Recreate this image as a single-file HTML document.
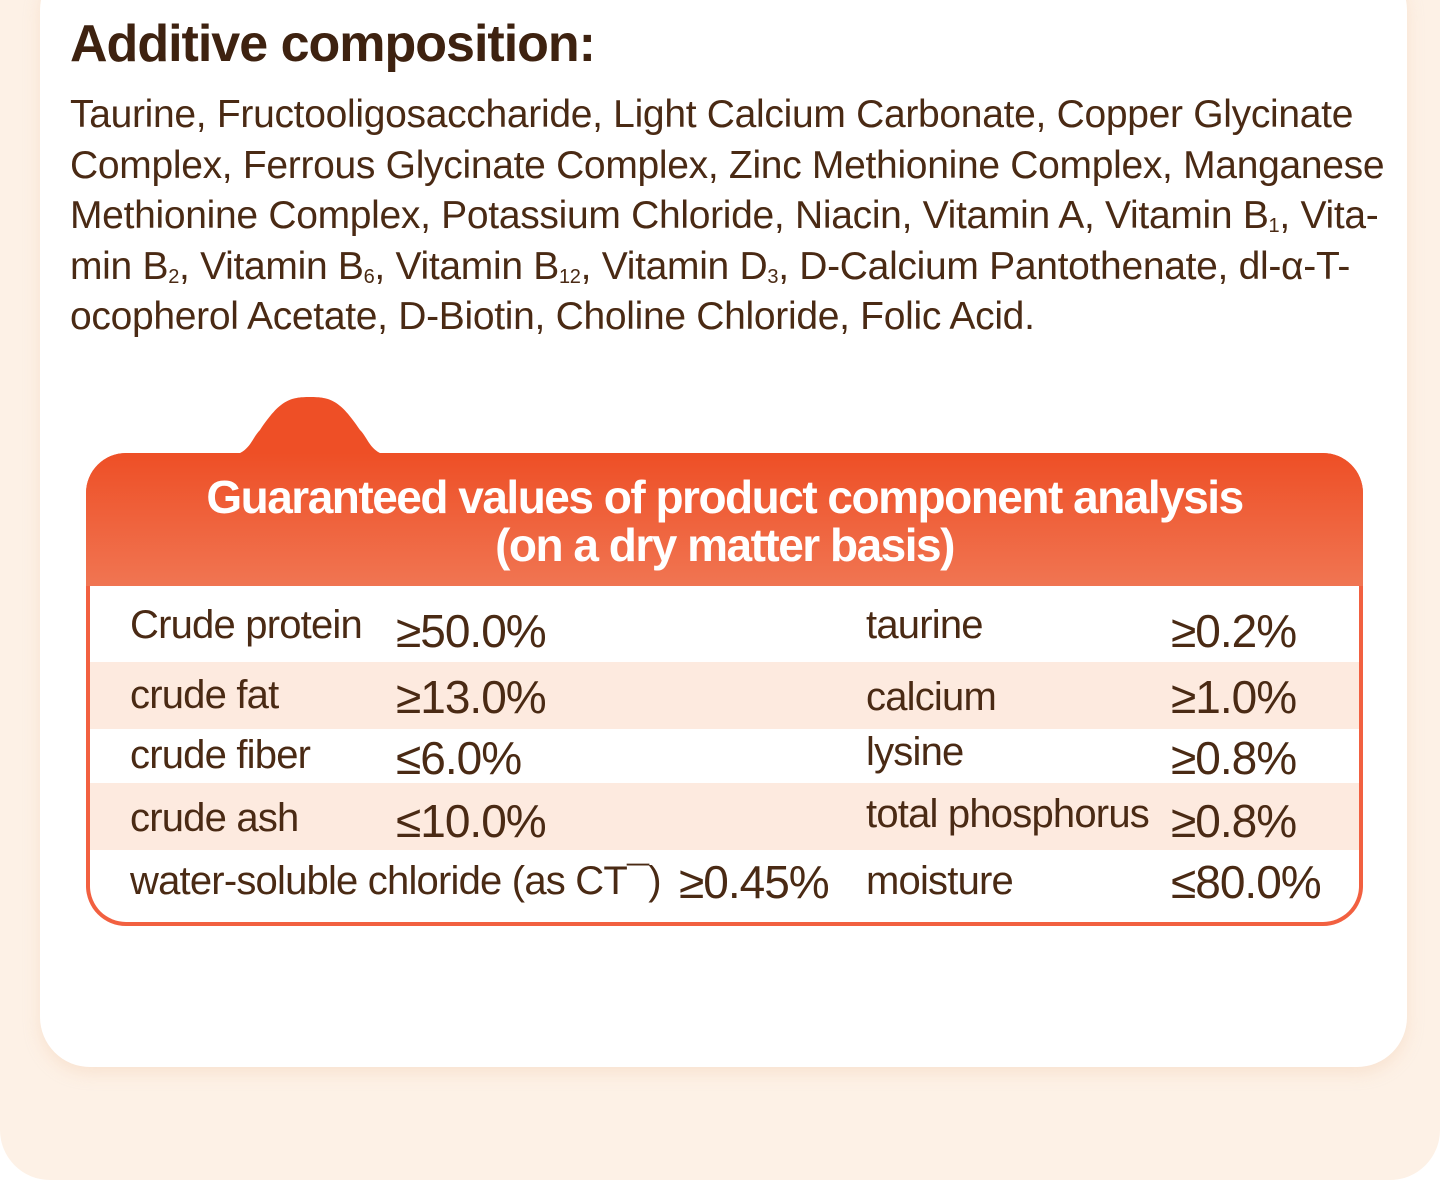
<!DOCTYPE html>
<html><head><meta charset="utf-8"><style>
body{margin:0;width:1440px;height:1202px;background:#fff;position:relative;overflow:hidden;font-family:"Liberation Sans","DejaVu Sans",sans-serif;color:#4a2a14}
.outer{position:absolute;left:0;top:0;width:1440px;height:1180px;background:#fdf1e6;border-radius:0 0 50px 50px}
.card{position:absolute;left:40px;top:-40px;width:1367px;height:1107px;background:#fff;border-radius:50px;box-shadow:0 6px 16px rgba(240,200,170,.35)}
h1{position:absolute;left:70px;top:14px;margin:0;font-size:52px;font-weight:bold;letter-spacing:-1px;color:#3e2210}
.p{position:absolute;left:70px;top:90px;white-space:nowrap;font-size:39px;line-height:50.5px;letter-spacing:-0.3px;color:#4a2a14}
sub{font-size:20px;vertical-align:-4px;line-height:0}
.tbl{position:absolute;left:86px;top:453px;width:1277px;height:473px;border-radius:40px;background:#f26040;overflow:hidden}
.hd{position:absolute;left:0;top:0;width:100%;height:133px;background:linear-gradient(#ee4f26,#f07552);color:#fff;text-align:center;font-weight:bold;font-size:46px;line-height:48px;letter-spacing:-1.5px;padding-top:20px;box-sizing:border-box}
.bd{position:absolute;left:4px;top:133px;width:1269px;height:336px;background:#fff;border-radius:0 0 36px 36px;overflow:hidden}
.r{position:absolute;left:0;width:100%}
.t{position:absolute;font-size:40px;letter-spacing:-0.8px;white-space:nowrap}
.v{font-size:46px;letter-spacing:-1px}
</style></head><body>
<div class="outer"></div>
<div class="card"></div>
<h1>Additive composition:</h1>
<div class="p">Taurine, Fructooligosaccharide, Light Calcium Carbonate, Copper Glycinate<br>Complex, Ferrous Glycinate Complex, Zinc Methionine Complex, Manganese<br>Methionine Complex, Potassium Chloride, Niacin, Vitamin A, Vitamin B<sub>1</sub>, Vita-<br>min B<sub>2</sub>, Vitamin B<sub>6</sub>, Vitamin B<sub>12</sub>, Vitamin D<sub>3</sub>, D-Calcium Pantothenate, dl-α-T-<br>ocopherol Acetate, D-Biotin, Choline Chloride, Folic Acid.</div>
<svg style="position:absolute;left:220px;top:395px" width="180" height="62"><path d="M0 62 C30 62 30 45 40 35 C60 5 70 2 90 2 C110 2 120 5 140 35 C150 45 150 62 180 62Z" fill="#ee4f26"/></svg>
<div class="tbl">
<div class="hd">Guaranteed values of product component analysis<br>(on a dry matter basis)</div>
<div class="bd">
<div class="r" style="top:76px;height:67px;background:#fdeadf"></div>
<div class="r" style="top:197px;height:67px;background:#fdeadf"></div>
</div>
</div>
<div class="t" style="left:130px;top:603px">Crude protein</div><div class="t v" style="left:396px;top:604px">≥50.0%</div>
<div class="t" style="left:866px;top:603px">taurine</div><div class="t v" style="left:1171px;top:604px">≥0.2%</div>
<div class="t" style="left:130px;top:673px">crude fat</div><div class="t v" style="left:396px;top:670px">≥13.0%</div>
<div class="t" style="left:866px;top:675px">calcium</div><div class="t v" style="left:1171px;top:670px">≥1.0%</div>
<div class="t" style="left:130px;top:733px">crude fiber</div><div class="t v" style="left:396px;top:731px">≤6.0%</div>
<div class="t" style="left:866px;top:730px">lysine</div><div class="t v" style="left:1171px;top:731px">≥0.8%</div>
<div class="t" style="left:130px;top:796px">crude ash</div><div class="t v" style="left:396px;top:794px">≤10.0%</div>
<div class="t" style="left:866px;top:792px">total phosphorus</div><div class="t v" style="left:1171px;top:794px">≥0.8%</div>
<div class="t" style="left:130px;top:859px">water-soluble chloride (as CT¯)</div><div class="t v" style="left:679px;top:855px">≥0.45%</div>
<div class="t" style="left:866px;top:859px">moisture</div><div class="t v" style="left:1171px;top:855px">≤80.0%</div>
</body></html>
